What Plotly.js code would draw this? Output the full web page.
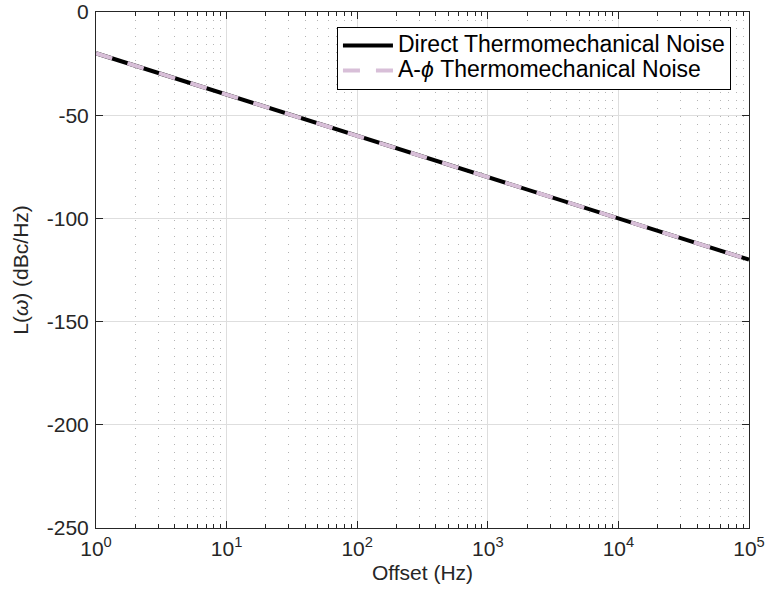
<!DOCTYPE html>
<html>
<head>
<meta charset="utf-8">
<script src="https://cdn.plot.ly/plotly-3.0.1.min.js"></script>
<style>html,body{margin:0;padding:0;background:#fff;}</style>
</head>
<body>
<div id="chart" style="width:766px;height:595px;"></div>
<script>
var offsetHz = [1, 10, 100, 1000, 10000, 100000];
var directNoise = [-20, -40, -60, -80, -100, -120];
var aphiNoise = [-20, -40, -60, -80, -100, -120];
var seriesNames = ['Direct Thermomechanical Noise', 'A-<i>ϕ</i> Thermomechanical Noise'];
var xTickVals = [1, 10, 100, 1000, 10000, 100000];
var xTickText = ['10<sup>0</sup>', '10<sup>1</sup>', '10<sup>2</sup>', '10<sup>3</sup>', '10<sup>4</sup>', '10<sup>5</sup>'];
var yTickVals = [-250, -200, -150, -100, -50, 0];
var yTickText = ['-250', '-200', '-150', '-100', '-50', '0'];

var font = 'Liberation Sans, Arial, Helvetica, sans-serif';
function big(s) { return '<span style="font-size:23px">' + s + '</span>'; }
var traces = [
  {x: offsetHz, y: directNoise, type: 'scatter', mode: 'lines',
   name: big(seriesNames[0]),
   line: {color: '#000000', width: 4}},
  {x: offsetHz, y: aphiNoise, type: 'scatter', mode: 'lines',
   name: big(seriesNames[1]),
   line: {color: '#d8bfd8', width: 4, dash: '17px,16px'}}
];
var layout = {
  width: 766, height: 595,
  margin: {l: 96, r: 17, t: 12, b: 67},
  paper_bgcolor: '#ffffff', plot_bgcolor: '#ffffff',
  font: {family: font, size: 20, color: '#262626'},
  showlegend: true,
  legend: {x: 0.369, y: 0.971, xanchor: 'left', yanchor: 'top',
    bgcolor: '#ffffff', bordercolor: '#000000', borderwidth: 1,
    font: {family: font, size: 17, color: '#000000'},
    tracegroupgap: 0, itemwidth: 50},
  xaxis: {type: 'log', range: [0, 5],
    tickvals: xTickVals, ticktext: xTickText,
    ticks: 'inside', ticklen: 7, tickcolor: '#262626',
    showline: true, linecolor: '#262626', linewidth: 1, mirror: 'ticks',
    showgrid: true, gridcolor: '#dedede', gridwidth: 1,
    zeroline: false,
    tickfont: {family: font, size: 21, color: '#262626'},
    ticklabelstandoff: 2,
    minor: {dtick: 'D1', ticks: 'inside', ticklen: 4, tickcolor: '#262626',
      showgrid: true, gridcolor: '#b4b4b4', griddash: '1px,7px', gridwidth: 1},
    title: {text: 'Offset (Hz)', font: {family: font, size: 21, color: '#262626'}, standoff: 6}
  },
  yaxis: {range: [-250, 0],
    tickvals: yTickVals, ticktext: yTickText,
    ticks: 'inside', ticklen: 7, tickcolor: '#262626',
    showline: true, linecolor: '#262626', linewidth: 1, mirror: 'ticks',
    showgrid: true, gridcolor: '#dedede', gridwidth: 1,
    zeroline: false,
    tickfont: {family: font, size: 21, color: '#262626'},
    ticklabelstandoff: 2,
    title: {text: 'L(<i>ω</i>) (dBc/Hz)', font: {family: font, size: 21, color: '#262626'}, standoff: 12}
  }
};
Plotly.newPlot('chart', traces, layout, {displayModeBar: false, staticPlot: true});
</script>
</body>
</html>
